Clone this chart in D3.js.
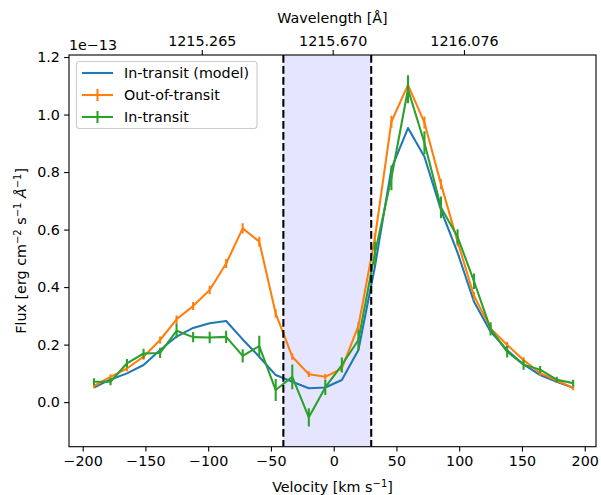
<!DOCTYPE html>
<html>
<head>
<meta charset="utf-8">
<script src="https://cdn.jsdelivr.net/npm/d3@7"></script>
<style>
  html, body { margin: 0; padding: 0; background: #fff; }
  svg text { font-family: "DejaVu Sans", sans-serif; fill: #000; }
</style>
</head>
<body>
<svg id="chart" width="601" height="495"></svg>
<script>
// ---- data (flux in units of 1e-13) ----
const velocity = [-191.0, -177.8, -164.7, -151.5, -138.3, -125.2, -112.0, -98.8, -85.7, -72.5,
                  -59.3, -46.2, -33.0, -19.8, -6.7, 6.5, 19.7, 32.8, 46.0, 59.2,
                  72.3, 85.5, 98.7, 111.8, 125.0, 138.2, 151.3, 164.5, 177.7, 190.8];
const modelFlux = [0.051, 0.079, 0.100, 0.129, 0.181, 0.228, 0.258, 0.274, 0.282, 0.218,
                   0.158, 0.094, 0.071, 0.048, 0.051, 0.077, 0.181, 0.470, 0.812, 0.953,
                   0.853, 0.668, 0.520, 0.349, 0.245, 0.181, 0.131, 0.094, 0.071, 0.050];
const outFlux = [0.056, 0.088, 0.117, 0.158, 0.216, 0.288, 0.334, 0.390, 0.482, 0.604,
                 0.558, 0.308, 0.158, 0.097, 0.088, 0.117, 0.265, 0.569, 0.975, 1.103,
                 0.972, 0.758, 0.558, 0.370, 0.256, 0.199, 0.146, 0.101, 0.075, 0.049];
const outErr = [0.008, 0.009, 0.010, 0.011, 0.012, 0.013, 0.014, 0.015, 0.016, 0.018,
                0.017, 0.014, 0.011, 0.010, 0.010, 0.011, 0.014, 0.018, 0.021, 0.022,
                0.021, 0.018, 0.016, 0.013, 0.012, 0.011, 0.010, 0.009, 0.008, 0.008];
const inFlux = [0.071, 0.071, 0.135, 0.169, 0.171, 0.248, 0.226, 0.225, 0.227, 0.161,
                0.195, 0.042, 0.088, -0.053, 0.051, 0.129, 0.216, 0.517, 0.780, 1.088,
                0.902, 0.677, 0.575, 0.420, 0.255, 0.175, 0.130, 0.113, 0.078, 0.066];
const inErr = [0.012, 0.012, 0.015, 0.017, 0.018, 0.026, 0.018, 0.020, 0.021, 0.023,
               0.036, 0.038, 0.043, 0.032, 0.026, 0.026, 0.035, 0.040, 0.043, 0.049,
               0.040, 0.038, 0.026, 0.027, 0.023, 0.020, 0.017, 0.013, 0.010, 0.012];
const band = [-40.1, 29.9];
const xTicks = [-200, -150, -100, -50, 0, 50, 100, 150, 200];
const yTicks = [0.0, 0.2, 0.4, 0.6, 0.8, 1.0, 1.2];
const topTickVelocity = [-105.1, -0.8, 103.8];
const topTickLabels = ["1215.265", "1215.670", "1216.076"];
const seriesNames = ["In-transit (model)", "Out-of-transit", "In-transit"];
const colors = ["#1f77b4", "#ff7f0e", "#2ca02c"];

// ---- layout ----
const L = 69, R = 596, T = 55, B = 446.7;
const FS = 14.3, LW = 2.08;
const svg = d3.select("#chart");
const x = d3.scaleLinear().domain([-210.9, 209.0]).range([L, R]);
const y = d3.scaleLinear().domain([-0.155, 1.207]).range([B, T]);

const clipId = "plotclip";
svg.append("defs").append("clipPath").attr("id", clipId)
  .append("rect").attr("x", L).attr("y", T).attr("width", R - L).attr("height", B - T);

const plot = svg.append("g").attr("clip-path", `url(#${clipId})`);

// shaded band
plot.append("rect")
  .attr("x", x(band[0])).attr("y", T)
  .attr("width", x(band[1]) - x(band[0])).attr("height", B - T)
  .attr("fill", "blue").attr("fill-opacity", 0.1);

const line = d3.line().x((d) => x(d[0])).y((d) => y(d[1]));

// model
plot.append("path")
  .datum(velocity.map((v, i) => [v, modelFlux[i]]))
  .attr("d", line).attr("fill", "none").attr("stroke", colors[0])
  .attr("stroke-width", LW).attr("stroke-linejoin", "round");

function errSeries(vals, errs, color) {
  const g = plot.append("g");
  g.append("path")
    .datum(velocity.map((v, i) => [v, vals[i]]))
    .attr("d", line).attr("fill", "none").attr("stroke", color)
    .attr("stroke-width", LW).attr("stroke-linejoin", "round");
  g.selectAll("line.err").data(velocity).enter().append("line")
    .attr("class", "err")
    .attr("x1", (v) => x(v)).attr("x2", (v) => x(v))
    .attr("y1", (v, i) => y(vals[i] - errs[i]))
    .attr("y2", (v, i) => y(vals[i] + errs[i]))
    .attr("stroke", color).attr("stroke-width", LW);
}
errSeries(outFlux, outErr, colors[1]);
errSeries(inFlux, inErr, colors[2]);

// dashed vertical lines
band.forEach((b) => {
  plot.append("line")
    .attr("x1", x(b)).attr("x2", x(b)).attr("y1", T).attr("y2", B)
    .attr("stroke", "#000").attr("stroke-width", LW)
    .attr("stroke-dasharray", "7.7,3.3");
});

// axes
const fmtX = (d) => (d < 0 ? "\u2212" + Math.abs(d) : String(d));
const axB = svg.append("g").attr("transform", `translate(0,${B})`)
  .call(d3.axisBottom(x).tickValues(xTicks).tickSize(4.9).tickPadding(4.0)
    .tickFormat(fmtX));
const axL = svg.append("g").attr("transform", `translate(${L},0)`)
  .call(d3.axisLeft(y).tickValues(yTicks).tickSize(4.9).tickPadding(4.2)
    .tickFormat(d3.format(".1f")));
const axT = svg.append("g").attr("transform", `translate(0,${T})`)
  .call(d3.axisTop(x).tickValues(topTickVelocity).tickSize(4.9).tickPadding(4.0)
    .tickFormat((d, i) => topTickLabels[i]));
[axB, axL, axT].forEach((a) => {
  a.select(".domain").remove();
  a.selectAll(".tick line").attr("stroke", "#000").attr("stroke-width", 1.1);
  a.selectAll(".tick text").attr("font-size", FS).attr("font-family", "DejaVu Sans");
});

// frame
svg.append("rect").attr("x", L).attr("y", T).attr("width", R - L).attr("height", B - T)
  .attr("fill", "none").attr("stroke", "#000").attr("stroke-width", 1.1);

// offset text
svg.append("text").attr("x", L).attr("y", 50).attr("font-size", FS).text("1e\u221213");

// axis labels
svg.append("text").attr("x", (L + R) / 2).attr("y", 23).attr("text-anchor", "middle")
  .attr("font-size", FS).text("Wavelength [\u00C5]");

const xl = svg.append("text").attr("x", (L + R) / 2).attr("y", 492).attr("text-anchor", "middle")
  .attr("font-size", FS);
xl.append("tspan").text("Velocity [km s");
xl.append("tspan").attr("font-size", FS * 0.7).attr("dy", -5.5).text("\u22121");
xl.append("tspan").attr("dy", 5.5).text("]");

const yl = svg.append("text").attr("transform", `translate(26,${(T + B) / 2}) rotate(-90)`)
  .attr("text-anchor", "middle").attr("font-size", FS);
yl.append("tspan").text("Flux [erg cm");
yl.append("tspan").attr("font-size", FS * 0.7).attr("dy", -5.5).text("\u22122");
yl.append("tspan").attr("dy", 5.5).text(" s");
yl.append("tspan").attr("font-size", FS * 0.7).attr("dy", -5.5).text("\u22121");
yl.append("tspan").attr("dy", 5.5).attr("font-style", "italic").text(" \u00C5");
yl.append("tspan").attr("font-size", FS * 0.7).attr("dy", -5.5).text("\u22121");
yl.append("tspan").attr("dy", 5.5).text("]");

// legend
const lg = svg.append("g");
lg.append("rect").attr("x", 76.5).attr("y", 61.5).attr("width", 180.5).attr("height", 67)
  .attr("rx", 3).attr("fill", "#fff").attr("fill-opacity", 0.8)
  .attr("stroke", "#ccc").attr("stroke-width", 1.1);
const rows = [73, 95, 117];
seriesNames.forEach((name, i) => {
  const ry = rows[i];
  lg.append("line").attr("x1", 82).attr("x2", 113).attr("y1", ry).attr("y2", ry)
    .attr("stroke", colors[i]).attr("stroke-width", LW);
  if (i > 0) {
    lg.append("line").attr("x1", 97.5).attr("x2", 97.5).attr("y1", ry - 6).attr("y2", ry + 6)
      .attr("stroke", colors[i]).attr("stroke-width", LW);
  }
  lg.append("text").attr("x", 124).attr("y", ry + 5).attr("font-size", FS).text(name);
});
</script>
</body>
</html>
